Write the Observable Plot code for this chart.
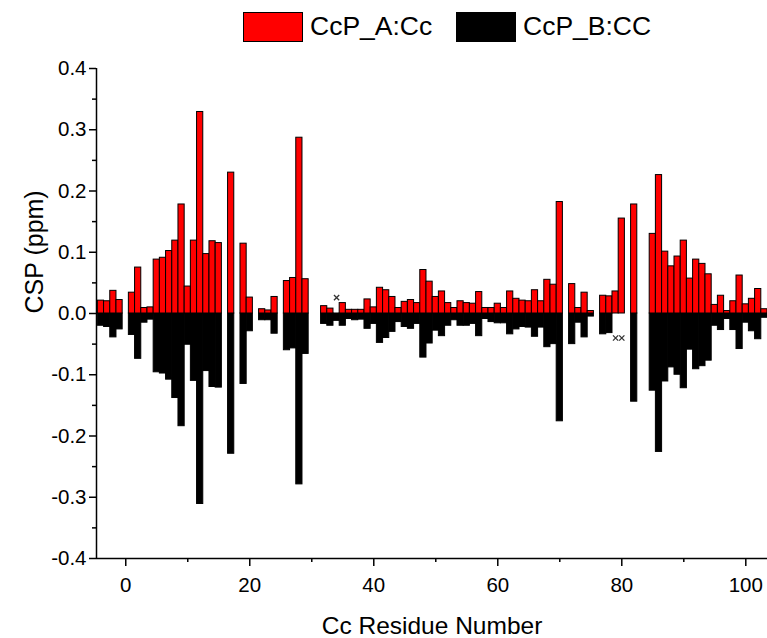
<!DOCTYPE html>
<html>
<head>
<meta charset="utf-8">
<script src="https://cdn.jsdelivr.net/npm/d3@7"></script>
<script src="https://cdn.jsdelivr.net/npm/@observablehq/plot@0.6"></script>
<style>
  body { margin: 0; background: #fff; font-family: "Liberation Sans", Arial, sans-serif; }
  #legend { position: relative; width: 767px; height: 50px; }
  .sw { position: absolute; top: 12px; width: 60px; height: 30px; border: 1px solid #000; box-sizing: border-box; }
  .lt { position: absolute; top: 10px; font-size: 26.5px; line-height: 32px; color: #000; }
</style>
</head>
<body>
<div id="legend">
  <div class="sw" style="left:243px;background:#ff0000"></div>
  <div class="lt" style="left:310px">CcP_A:Cc</div>
  <div class="sw" style="left:456px;background:#000"></div>
  <div class="lt" style="left:523px">CcP_B:CC</div>
</div>
<div id="chart"></div>
<script>
const residues = [-4,-3,-2,-1,0,1,2,3,4,5,6,7,8,9,10,11,12,13,14,15,16,17,18,19,20,21,22,23,24,25,26,27,28,29,30,31,32,33,34,35,36,37,38,39,40,41,42,43,44,45,46,47,48,49,50,51,52,53,54,55,56,57,58,59,60,61,62,63,64,65,66,67,68,69,70,71,72,73,74,75,76,77,78,79,80,81,82,83,84,85,86,87,88,89,90,91,92,93,94,95,96,97,98,99,100,101,102,103];

// CcP_A:Cc (positive, red)
const cspA = [0.021,0.020,0.037,0.022,null,0.034,0.075,0.009,0.010,0.088,0.091,0.102,0.119,0.178,0.044,0.119,0.329,0.097,0.118,0.115,null,0.230,null,0.114,0.026,null,0.007,0.005,0.027,null,0.053,0.058,0.287,0.056,null,null,0.012,0.008,null,0.017,0.006,0.006,0.006,0.023,0.010,0.042,0.038,0.027,0.009,0.019,0.022,0.017,0.071,0.052,0.027,0.036,0.017,0.009,0.020,0.017,0.016,0.035,0.009,0.009,0.016,0.009,0.036,0.024,0.021,0.020,0.038,0.020,0.055,0.047,0.182,null,0.048,0.009,0.034,0.004,null,0.029,0.028,0.036,0.155,null,0.178,null,null,0.130,0.226,0.101,0.077,0.093,0.119,0.057,0.088,0.081,0.064,0.014,0.029,0.004,0.020,0.062,0.015,0.024,0.040,0.007];

// CcP_B:CC (negative, black)
const cspB = [-0.020,-0.022,-0.039,-0.026,null,-0.035,-0.074,-0.015,-0.010,-0.096,-0.098,-0.108,-0.138,-0.184,-0.051,-0.110,-0.311,-0.094,-0.120,-0.121,null,-0.229,null,-0.115,-0.029,null,-0.011,-0.011,-0.033,null,-0.060,-0.057,-0.279,-0.066,null,null,-0.017,-0.020,-0.012,-0.020,-0.009,-0.011,-0.010,-0.025,-0.017,-0.048,-0.040,-0.030,-0.014,-0.022,-0.025,-0.017,-0.072,-0.049,-0.028,-0.037,-0.020,-0.011,-0.020,-0.020,-0.017,-0.037,-0.009,-0.014,-0.016,-0.016,-0.034,-0.026,-0.022,-0.023,-0.038,-0.023,-0.055,-0.050,-0.176,null,-0.050,-0.015,-0.039,-0.005,null,-0.034,-0.032,null,null,null,-0.144,null,null,-0.126,-0.226,-0.111,-0.088,-0.100,-0.122,-0.059,-0.091,-0.086,-0.077,-0.020,-0.027,-0.009,-0.027,-0.058,-0.015,-0.029,-0.042,-0.007];

// "x" markers for unassigned values
const markerResidues = [34, 79, 80];
const markerValues = [0.026, -0.040, -0.040];

const yMajor = [-0.4,-0.3,-0.2,-0.1,0,0.1,0.2,0.3,0.4];
const yMinor = [-0.35,-0.25,-0.15,-0.05,0.05,0.15,0.25,0.35];
const xMajor = [0,20,40,60,80,100];
const xMinor = [10,30,50,70,90];

const xDomain = [-4.72, 103.5];

const barsA = residues.map((r, i) => ({r, v: cspA[i]})).filter(d => d.v != null);
const barsB = residues.map((r, i) => ({r, v: cspB[i]})).filter(d => d.v != null);
const markers = markerResidues.map((r, i) => ({r, v: markerValues[i]}));

const chart = Plot.plot({
  width: 767,
  height: 588,
  marginLeft: 96,
  marginRight: 0,
  marginTop: 18,
  marginBottom: 80,
  style: {fontFamily: "'Liberation Sans', Arial, sans-serif", color: "#000", background: "#fff"},
  x: {domain: xDomain, axis: null},
  y: {domain: [-0.4, 0.4], axis: null},
  marks: [
    Plot.rect(barsB, {x1: d => d.r - 0.5, x2: d => d.r + 0.5, y1: 0, y2: "v", fill: "#000", stroke: "#000", strokeWidth: 1}),
    Plot.rect(barsA, {x1: d => d.r - 0.5, x2: d => d.r + 0.5, y1: 0, y2: "v", fill: "#ff0000", stroke: "#000", strokeWidth: 1}),
    Plot.dot(markers, {x: "r", y: "v", symbol: "times", r: 2.5, stroke: "#333", strokeWidth: 1.3}),
    Plot.ruleX([xDomain[0]], {stroke: "#000", strokeWidth: 1.5}),
    Plot.ruleY([-0.4], {stroke: "#000", strokeWidth: 1.5}),
    Plot.axisY(yMajor, {tickSize: 7, tickPadding: 3, fontSize: 20.5, strokeWidth: 1.5, tickFormat: d => d.toFixed(1), label: null}),
    Plot.axisY(yMinor, {tickSize: 4, strokeWidth: 1.5, tickFormat: () => "", label: null}),
    Plot.axisX(xMajor, {tickSize: 8, tickPadding: 11, fontSize: 20.5, strokeWidth: 1.5, tickFormat: d => String(d), label: null}),
    Plot.axisX(xMinor, {tickSize: 4, strokeWidth: 1.5, tickFormat: () => "", label: null}),
    Plot.text(["CSP (ppm)"], {frameAnchor: "left", dx: -62, rotate: -90, fontSize: 25, text: d => d}),
    Plot.text(["Cc Residue Number"], {frameAnchor: "bottom", dy: 75, fontSize: 24.5, text: d => d})
  ]
});
document.getElementById("chart").appendChild(chart);
</script>
</body>
</html>
